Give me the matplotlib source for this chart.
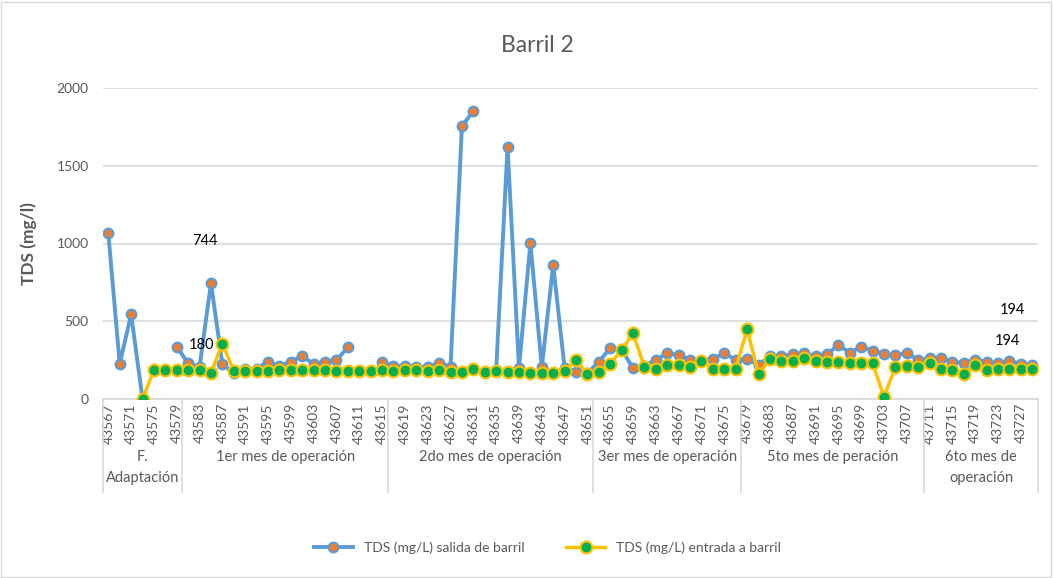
import numpy as np
import matplotlib
matplotlib.use("Agg")
import matplotlib.pyplot as plt
from matplotlib.lines import Line2D
from matplotlib.patches import Rectangle

plt.rcParams['font.family'] = ['Lato', 'DejaVu Sans']

nan = np.nan

# day codes (excel serials), one point every two days
dias = [43567 + 2 * k for k in range(82)]

# TDS (mg/L) salida de barril
salida = [1066, 225, 545, 0, nan, nan, 336, 229, 208, 744,
          225, 165, 190, 195, 240, 212, 240, 276, 225, 240,
          251, 332, nan, nan, 240, 212, 212, 206, 206, 234,
          208, 1755, 1852, nan, 186, 1623, 199, 1003, 204, 862,
          199, 176, 165, 240, 326, 320, 197, 215, 251, 294,
          283, 251, 246, 259, 294, 251, 257, 219, 276, 276,
          289, 294, 276, 289, 347, 298, 336, 311, 289, 280,
          298, 251, 262, 262, 240, 234, 251, 240, 229, 246,
          226, 219]

# TDS (mg/L) entrada a barril
entrada = [nan, nan, nan, 0, 186, 186, 186, 186, 186, 169,
           354, 182, 182, 182, 182, 186, 186, 186, 186, 186,
           180, 180, 182, 182, 186, 182, 186, 186, 180, 186,
           176, 176, 191, 176, 180, 176, 176, 165, 165, 170,
           180, 251, 159, 176, 225, 315, 422, 204, 191, 219,
           219, 204, 246, 193, 193, 193, 448, 159, 255, 246,
           246, 266, 246, 240, 240, 234, 234, 229, 15, 204,
           212, 204, 229, 193, 186, 161, 219, 186, 193, 193,
           193, 194]

# second level of the category axis: name and number of points
grupos = ["F.\nAdaptación", "1er mes de operación", "2do mes de operación",
          "3er mes de operación", "5to mes de peración", "6to mes de\noperación"]
grupo_n = [7, 18, 18, 13, 16, 10]

gris = '#595959'
linea = '#D9D9D9'

fig = plt.figure(figsize=(10.53, 5.78), dpi=100)
fig.patches.append(Rectangle((0.001, 0.002), 0.997, 0.995, transform=fig.transFigure,
                             fill=False, edgecolor=linea, linewidth=1))
ax = fig.add_axes([102.6 / 1053, 1 - 399 / 578, (1038 - 102.6) / 1053, (399 - 88) / 578])

x = np.arange(len(dias))
ax.plot(x, salida, color='#5B9BD5', linewidth=2.8, marker='o', markersize=7,
        markerfacecolor='#ED7D31', markeredgecolor='#5B9BD5', markeredgewidth=1.5,
        label='TDS (mg/L) salida de barril', zorder=3)
ax.plot(x, entrada, color='#FFC000', linewidth=2.5, marker='o', markersize=8.5,
        markerfacecolor='#00B050', markeredgecolor='#FFC000', markeredgewidth=1.5,
        label='TDS (mg/L) entrada a barril', zorder=4)

ax.set_xlim(-0.5, len(dias) - 0.5)
ax.set_ylim(0, 2000)
ax.set_yticks([0, 500, 1000, 1500, 2000])
ax.yaxis.grid(True, color=linea, linewidth=1.2)
ax.set_axisbelow(True)
for s in ['left', 'right', 'top']:
    ax.spines[s].set_visible(False)
ax.spines['bottom'].set_color(linea)
ax.spines['bottom'].set_linewidth(1.2)
ax.tick_params(axis='y', length=0, labelsize=10, labelcolor=gris, pad=10)
ax.set_xticks(x[::2])
ax.set_xticklabels([str(d) for d in dias[::2]], rotation=90, fontsize=10, color=gris)
ax.tick_params(axis='x', length=0, pad=3)

ax.set_ylabel('TDS (mg/l)', fontsize=12.5, fontweight='bold', color=gris, labelpad=14)
fig.text(0.51, 1 - 45 / 578, 'Barril 2', ha='center', va='center', fontsize=16.5, color=gris)

# group labels and separators
tr = ax.get_xaxis_transform()
inicio = -0.5
bordes = [inicio]
for nombre, n in zip(grupos, grupo_n):
    centro = inicio + n / 2
    ax.text(centro, -0.165, nombre, transform=tr, ha='center', va='top',
            fontsize=10.5, color=gris, linespacing=1.65)
    inicio += n
    bordes.append(inicio)
for b in bordes:
    ax.add_line(Line2D([b, b], [0, -0.30], transform=tr, color=linea,
                       linewidth=1.2, clip_on=False))

# data labels
ax.annotate('744', (9, salida[9]), xytext=(-6, 42), textcoords='offset pixels',
            ha='center', va='center', fontsize=10.5, color='black')
ax.annotate('180', (10, entrada[10]), xytext=(-21, -1), textcoords='offset pixels',
            ha='center', va='center', fontsize=10.5, color='black')
ax.annotate('194', (81, salida[81]), xytext=(-20, 55), textcoords='offset pixels',
            ha='center', va='center', fontsize=10.5, color='black')
ax.annotate('194', (81, entrada[81]), xytext=(-25, 28), textcoords='offset pixels',
            ha='center', va='center', fontsize=10.5, color='black')

fig.legend(loc='center', bbox_to_anchor=(0.52, 1 - 548 / 578), ncol=2, frameon=False,
           fontsize=10, labelcolor=gris, handlelength=2.8, columnspacing=3)

fig.savefig('out.png', dpi=100)
